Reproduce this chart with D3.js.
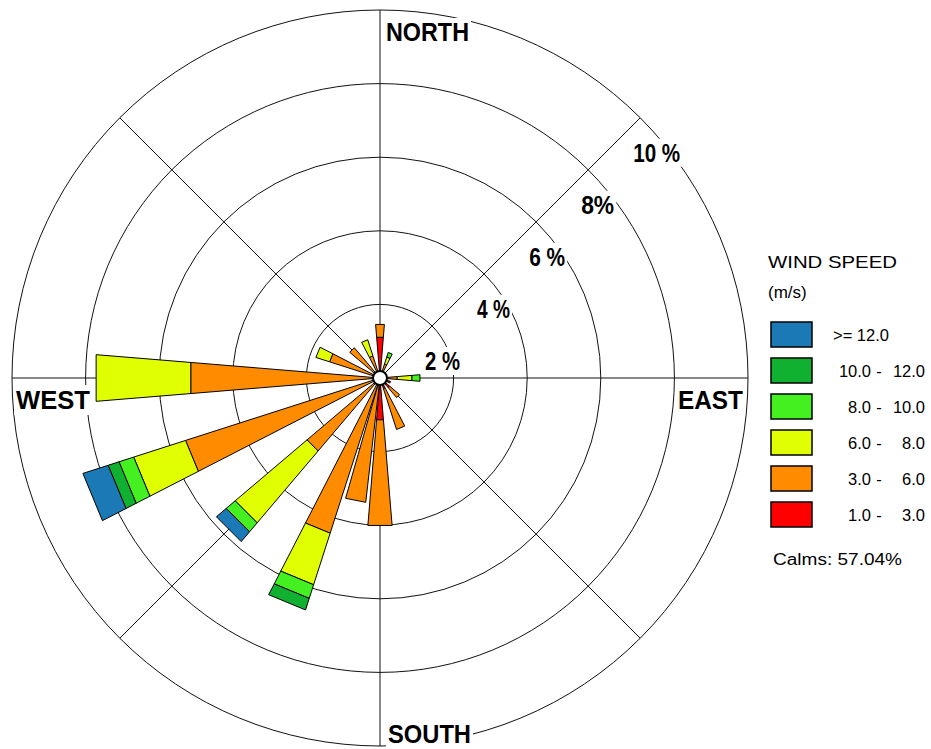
<!DOCTYPE html>
<html>
<head>
<meta charset="utf-8">
<script src="https://cdn.jsdelivr.net/npm/d3@7"></script>
<style>
  html, body { margin: 0; padding: 0; background: #fff; }
  svg { display: block; }
</style>
</head>
<body>
<svg id="chart" width="931" height="749"></svg>
<script>
// 32 compass sectors, clockwise from north
const directions = [
  "N","NbE","NNE","NEbN","NE","NEbE","ENE","EbN",
  "E","EbS","ESE","SEbE","SE","SEbS","SSE","SbE",
  "S","SbW","SSW","SWbS","SW","SWbW","WSW","WbS",
  "W","WbN","WNW","NWbW","NW","NWbN","NNW","NbW"
];

// Frequency (%) of each wind-speed class per sector
const freq1to3 = [
  1.11,0,0,0,0,0,0,0,
  0.20,0,0.30,0,0.35,0,0.30,0,
  1.14,0,0,0,0,0,0,0,
  0,0,0,0,0,0,0,0
];
const freq3to6 = [
  0.35,0,0.40,0,0,0,0,0,
  0.27,0,0,0,0.35,0,1.17,0,
  2.88,3.40,4.43,0,2.60,0,5.55,0,
  5.16,0,1.44,0,1.08,0,0.63,0
];
const freq6to8 = [
  0,0,0.20,0,0,0,0,0,
  0.40,0,0,0,0,0,0,0,
  0,0,1.47,0,2.56,0,1.48,0,
  2.58,0,0.39,0,0,0,0.46,0
];
const freq8to10 = [
  0,0,0.13,0,0,0,0,0,
  0.22,0,0,0,0,0,0,0,
  0,0,0.39,0,0.32,0,0.42,0,
  0,0,0,0,0,0,0,0
];
const freq10to12 = [
  0,0,0,0,0,0,0,0,
  0,0,0,0,0,0,0,0,
  0,0,0.33,0,0,0,0.31,0,
  0,0,0,0,0,0,0,0
];
const freq12plus = [
  0,0,0,0,0,0,0,0,
  0,0,0,0,0,0,0,0,
  0,0,0,0,0.35,0,0.72,0,
  0,0,0,0,0,0,0,0
];

// Speed classes from the centre outward
const speedSeries = [freq1to3, freq3to6, freq6to8, freq8to10, freq10to12, freq12plus];
const speedColors = ["#ff0000", "#ff8c00", "#e0ff00", "#44f020", "#10b030", "#1b79b5"];
const binLow  = ["1.0", "3.0", "6.0", "8.0", "10.0", ">="];
const binHigh = ["3.0", "6.0", "8.0", "10.0", "12.0", "12.0"];

const ringTicks = [2, 4, 6, 8, 10];
const compassLabels = ["NORTH", "EAST", "SOUTH", "WEST"];
const calmsPct = 57.04;

const svg = d3.select("#chart");
const cx = 380, cy = 378, R = 368;
const FONT = "'Liberation Sans', Arial, Helvetica, sans-serif";

const rScale = d3.scaleLinear().domain([0, 10]).range([0, R]);
const step = 2 * Math.PI / directions.length;
const aScale = d3.scaleBand()
  .domain(directions)
  .range([-step / 2, 2 * Math.PI - step / 2])
  .paddingInner(0.165)
  .paddingOuter(0.0825);

const polar = (r, a) => [cx + r * Math.sin(a), cy - r * Math.cos(a)];

const g = svg.append("g");

// Rings
g.selectAll("circle.ring").data(ringTicks).enter().append("circle")
  .attr("class", "ring")
  .attr("cx", cx).attr("cy", cy).attr("r", d => rScale(d))
  .attr("fill", "none").attr("stroke", "#111").attr("stroke-width", 1);

// Spokes: N-S, E-W and both diagonals
[0, 45, 90, 135].forEach(deg => {
  const a = deg * Math.PI / 180;
  const p0 = polar(R, a), p1 = polar(R, a + Math.PI);
  g.append("line")
    .attr("x1", p0[0]).attr("y1", p0[1]).attr("x2", p1[0]).attr("y2", p1[1])
    .attr("stroke", "#111").attr("stroke-width", 1);
});

// Stacked petals
const segments = [];
directions.forEach((dir, i) => {
  let cum = 0;
  speedSeries.forEach((series, k) => {
    const v = series[i];
    if (v > 0) {
      segments.push({ dir, k, r0: cum, r1: cum + v });
      cum += v;
    }
  });
});

const line = d3.line();
g.selectAll("path.seg").data(segments).enter().append("path")
  .attr("class", "seg")
  .attr("d", s => {
    const a0 = aScale(s.dir), a1 = a0 + aScale.bandwidth();
    const r0 = rScale(s.r0), r1 = rScale(s.r1);
    return line([polar(r0, a0), polar(r1, a0), polar(r1, a1), polar(r0, a1)]) + "Z";
  })
  .attr("fill", s => speedColors[s.k])
  .attr("stroke", "#000").attr("stroke-width", 1)
  .attr("stroke-linejoin", "miter");

// Calm circle
g.append("circle").attr("cx", cx).attr("cy", cy).attr("r", 7)
  .attr("fill", "#fff").attr("stroke", "#000").attr("stroke-width", 2);

// Label with a white backing box
function boxedText(parent, x, y, txt, size, weight, len) {
  const grp = parent.append("g");
  const t = grp.append("text")
    .attr("x", x).attr("y", y)
    .attr("font-family", FONT).attr("font-size", size).attr("font-weight", weight)
    .attr("fill", "#000").text(txt);
  if (len) t.attr("textLength", len).attr("lengthAdjust", "spacingAndGlyphs");
  const bb = t.node().getBBox();
  grp.insert("rect", "text")
    .attr("x", bb.x - 2).attr("y", bb.y).attr("width", bb.width + 4).attr("height", bb.height)
    .attr("fill", "#fff");
  return grp;
}

// Ring percentage labels along the NE diagonal
const ringLabelWidth = { 2: 35, 4: 33, 6: 36, 8: 33, 10: 47 };
ringTicks.forEach(v => {
  const p = polar(rScale(v), Math.PI / 4);
  const txt = v === 8 ? v + "%" : v + " %";
  boxedText(g, p[0] - 7, p[1] + 44, txt, 25, "bold", ringLabelWidth[v]);
});

// Compass labels
boxedText(g, 386, 41, compassLabels[0], 25, "bold", 83);
boxedText(g, 678, 409, compassLabels[1], 26, "bold", 65);
boxedText(g, 388, 743, compassLabels[2], 25, "bold", 83);
boxedText(g, 16, 409, compassLabels[3], 26, "bold", 74);

// Legend
const lg = svg.append("g");
lg.append("text").attr("x", 768).attr("y", 268)
  .attr("font-family", FONT).attr("font-size", 17)
  .attr("textLength", 129).attr("lengthAdjust", "spacingAndGlyphs")
  .text("WIND SPEED");
lg.append("text").attr("x", 768).attr("y", 298)
  .attr("font-family", FONT).attr("font-size", 17)
  .text("(m/s)");

const legendOrder = d3.range(speedSeries.length).reverse();
const rows = lg.selectAll("g.row").data(legendOrder).enter().append("g")
  .attr("class", "row")
  .attr("transform", (k, j) => `translate(771,${322 + j * 36})`);
rows.append("rect").attr("width", 41).attr("height", 25)
  .attr("fill", k => speedColors[k]).attr("stroke", "#000").attr("stroke-width", 1.5);
rows.each(function (k) {
  const row = d3.select(this);
  const txt = (x, anchor, s) => row.append("text")
    .attr("x", x).attr("y", 18.5).attr("text-anchor", anchor)
    .attr("font-family", FONT).attr("font-size", 16.5).text(s);
  if (k === speedSeries.length - 1) {
    txt(62, "start", ">= " + binHigh[k]);
  } else {
    txt(100, "end", binLow[k]);
    txt(108, "middle", "-");
    txt(154, "end", binHigh[k]);
  }
});

lg.append("text").attr("x", 773).attr("y", 565)
  .attr("font-family", FONT).attr("font-size", 16)
  .attr("textLength", 129).attr("lengthAdjust", "spacingAndGlyphs")
  .text("Calms: " + calmsPct.toFixed(2) + "%");
</script>
</body>
</html>
